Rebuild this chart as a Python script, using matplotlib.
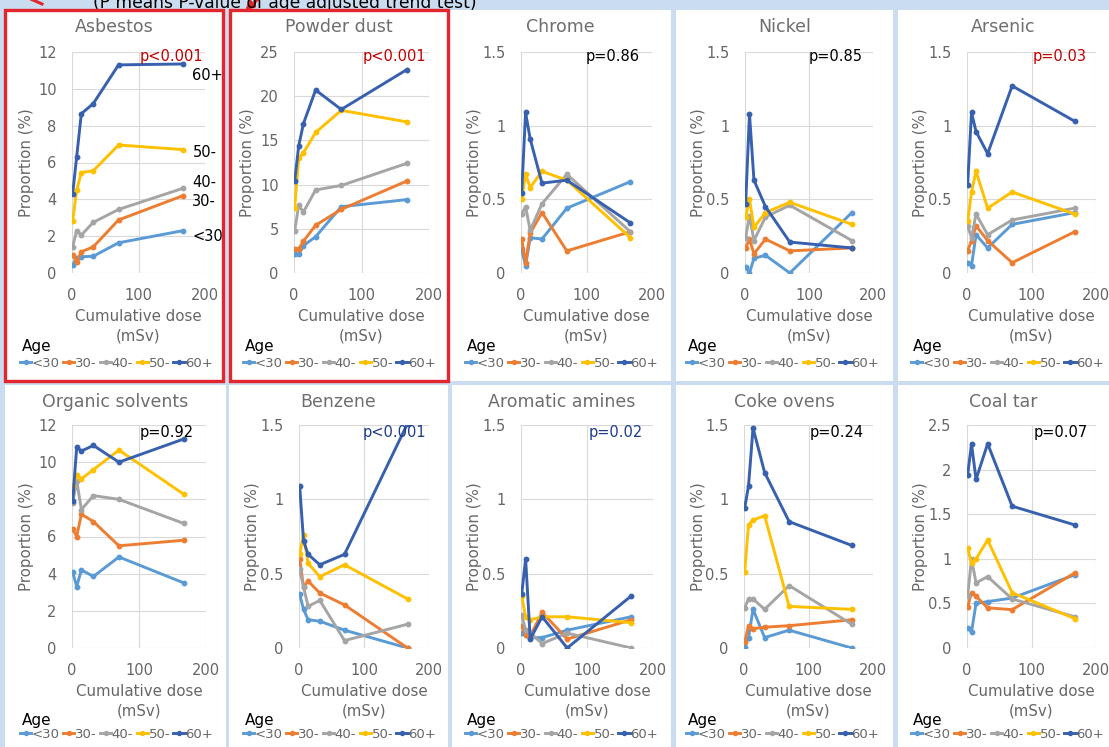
import matplotlib
matplotlib.use("Agg")
import matplotlib.pyplot as plt
from matplotlib.patches import Rectangle

plt.rcParams['font.family'] = ['DejaVu Sans']

# cumulative dose categories (mSv)
dose = [1, 7, 14, 32, 70, 167]
ages = ["<30", "30-", "40-", "50-", "60+"]
colors = ['#5B9BD5', '#ED7D31', '#A5A5A5', '#FFC000', '#3760AE']

titles = ["Asbestos", "Powder dust", "Chrome", "Nickel", "Arsenic",
          "Organic solvents", "Benzene", "Aromatic amines", "Coke ovens", "Coal tar"]
pvals = ["p<0.001", "p<0.001", "p=0.86", "p=0.85", "p=0.03",
         "p=0.92", "p<0.001", "p=0.02", "p=0.24", "p=0.07"]
pcolors = ['#C00000', '#C00000', 'black', 'black', '#C00000',
           'black', '#1F3C88', '#1F3C88', 'black', 'black']
ymax = [12, 25, 1.5, 1.5, 1.5, 12, 1.5, 1.5, 1.5, 2.5]
ystep = [2, 5, 0.5, 0.5, 0.5, 2, 0.5, 0.5, 0.5, 0.5]

# proportion (%) per age group: <30, 30-, 40-, 50-, 60+
asbestos = [[0.42, 0.84, 0.88, 0.91, 1.64, 2.3],
            [0.97, 0.6, 1.15, 1.42, 2.88, 4.2],
            [1.42, 2.3, 2.06, 2.75, 3.45, 4.6],
            [2.85, 4.5, 5.45, 5.55, 6.95, 6.7],
            [4.3, 6.3, 8.65, 9.2, 11.3, 11.35]]
powder = [[2.2, 2.1, 3.1, 4.1, 7.5, 8.3],
          [2.75, 2.75, 3.6, 5.4, 7.2, 10.4],
          [4.8, 7.65, 6.9, 9.4, 9.9, 12.4],
          [7.4, 13.0, 13.6, 15.9, 18.4, 17.1],
          [10.4, 14.4, 16.9, 20.7, 18.5, 23.0]]
chrome = [[0.16, 0.05, 0.24, 0.23, 0.44, 0.62],
          [0.23, 0.07, 0.27, 0.41, 0.15, 0.28],
          [0.40, 0.45, 0.29, 0.47, 0.67, 0.28],
          [0.50, 0.67, 0.58, 0.69, 0.63, 0.24],
          [0.54, 1.09, 0.91, 0.61, 0.63, 0.34]]
nickel = [[0.04, 0.0, 0.10, 0.12, 0.0, 0.41],
          [0.17, 0.23, 0.13, 0.23, 0.15, 0.17],
          [0.24, 0.39, 0.22, 0.38, 0.46, 0.22],
          [0.38, 0.50, 0.31, 0.41, 0.48, 0.33],
          [0.47, 1.08, 0.63, 0.45, 0.21, 0.17]]
arsenic = [[0.07, 0.05, 0.26, 0.17, 0.33, 0.41],
           [0.15, 0.22, 0.32, 0.22, 0.07, 0.28],
           [0.32, 0.24, 0.40, 0.26, 0.36, 0.44],
           [0.35, 0.55, 0.69, 0.44, 0.55, 0.40],
           [0.60, 1.09, 0.96, 0.81, 1.27, 1.03]]
organic = [[4.1, 3.3, 4.2, 3.85, 4.9, 3.5],
           [6.4, 6.0, 7.2, 6.8, 5.5, 5.8],
           [7.8, 9.0, 7.45, 8.2, 8.0, 6.7],
           [8.7, 9.3, 9.1, 9.6, 10.65, 8.27],
           [7.9, 10.8, 10.6, 10.9, 10.0, 11.25]]
benzene = [[0.36, 0.26, 0.19, 0.18, 0.12, 0.0],
           [0.60, 0.41, 0.45, 0.37, 0.29, 0.0],
           [0.53, 0.41, 0.28, 0.32, 0.05, 0.16],
           [0.63, 0.76, 0.57, 0.48, 0.56, 0.33],
           [1.09, 0.72, 0.63, 0.56, 0.63, 1.51]]
aromatic = [[0.10, 0.09, 0.07, 0.07, 0.12, 0.21],
            [0.15, 0.09, 0.08, 0.24, 0.06, 0.19],
            [0.22, 0.12, 0.10, 0.03, 0.10, 0.0],
            [0.35, 0.21, 0.19, 0.21, 0.21, 0.17],
            [0.36, 0.60, 0.06, 0.21, 0.0, 0.35]]
coke = [[0.01, 0.07, 0.26, 0.07, 0.12, 0.0],
        [0.04, 0.15, 0.13, 0.14, 0.15, 0.19],
        [0.27, 0.33, 0.33, 0.26, 0.42, 0.16],
        [0.51, 0.83, 0.86, 0.89, 0.28, 0.26],
        [0.94, 1.09, 1.48, 1.18, 0.85, 0.69]]
coaltar = [[0.22, 0.18, 0.50, 0.52, 0.56, 0.82],
           [0.46, 0.62, 0.58, 0.45, 0.43, 0.84],
           [0.58, 1.0, 0.73, 0.80, 0.55, 0.35],
           [1.12, 0.95, 1.0, 1.21, 0.62, 0.33],
           [1.94, 2.29, 1.89, 2.29, 1.59, 1.38]]
data = [asbestos, powder, chrome, nickel, arsenic,
        organic, benzene, aromatic, coke, coaltar]

W, H = 1109, 747
fig = plt.figure(figsize=(W / 100, H / 100), dpi=100)
fig.patch.set_facecolor('#CADCF0')

def fx(px):
    return px / W

def fy(py):
    # py measured from the top of the picture
    return 1 - py / H

# white panel backgrounds (pixel boxes: left, right, top, bottom)
panels = [(5, 223, 10, 381), (230, 448, 10, 381), (450, 671, 10, 381),
          (676, 893, 10, 381), (898, 1109, 10, 381),
          (5, 226, 385, 747), (229, 448, 385, 747), (452, 671, 385, 747),
          (676, 893, 385, 747), (898, 1109, 385, 747)]
for l, r, t, b in panels:
    fig.patches.append(Rectangle((fx(l), fy(b)), fx(r - l), (b - t) / H,
                                 transform=fig.transFigure, facecolor='white',
                                 edgecolor='none', zorder=-10))
for l, r, t, b in panels[:2]:
    fig.patches.append(Rectangle((fx(l), fy(b)), fx(r - l), (b - t) / H,
                                 transform=fig.transFigure, facecolor='none',
                                 edgecolor='#E3262E', linewidth=2.4, zorder=5))

# axes boxes in pixels
cols = [[(72, 205), (294, 429), (521, 652), (745, 873), (967, 1096)],
        [(72, 206), (299, 429), (521, 653), (744, 873), (967, 1096)]]
rows = [(52, 273), (425, 648)]
leg_x = [20, 243, 465, 686, 911]
p_off = [2, 3, 12, 10, 9, 12, 3, 10, 9, 8]
tick_c = '#666666'

for i in range(10):
    r, c = divmod(i, 5)
    l, rt = cols[r][c]
    t, b = rows[r]
    w = rt - l
    ax = fig.add_axes([fx(l), fy(b), fx(w), (b - t) / H])
    ax.set_facecolor('none')
    for k in range(5):
        ax.plot(dose, data[i][k], color=colors[k], lw=2.1, marker='o',
                markersize=3.2, label=ages[k], solid_joinstyle='round')
    ax.set_xlim(0, 200)
    ax.set_ylim(0, ymax[i])
    ax.set_xticks([0, 100, 200])
    yt = [j * ystep[i] for j in range(int(round(ymax[i] / ystep[i])) + 1)]
    ax.set_yticks(yt)
    ax.set_yticklabels(['%g' % v for v in yt])
    ax.grid(True, color='#D9D9D9', lw=0.8)
    ax.set_axisbelow(True)
    for s in ax.spines.values():
        s.set_visible(False)
    ax.tick_params(length=0, labelsize=10.5, colors=tick_c)
    ax.tick_params(axis='y', pad=11)
    ax.tick_params(axis='x', pad=11)
    ax.set_ylabel("Proportion (%)", fontsize=10.8, color=tick_c, va='center')
    ax.yaxis.set_label_coords(-46 / w, 0.5)
    ax.set_xlabel("Cumulative dose\n(mSv)", fontsize=10.8, color=tick_c,
                  labelpad=4, linespacing=1.4)
    ax.text(1 - p_off[i] / w, 1 - (4 if r == 0 else 7) / (b - t), pvals[i],
            transform=ax.transAxes, ha='right', va='center', fontsize=10.5,
            color=pcolors[i])
    pl, pr, pt, pb = panels[i]
    fig.text(fx((pl + pr) / 2), fy(pt + 17), titles[i],
             ha='center', va='center', fontsize=12.5, color='#6E6E6E')
    fig.text(fx(leg_x[c] + 2), fy(346 if r == 0 else 721), "Age",
             ha='left', va='center', fontsize=11, color='black')
    ax.legend(loc='center left', bbox_to_anchor=(fx(leg_x[c]), fy(363 if r == 0 else 734)),
              bbox_transform=fig.transFigure, ncol=5, frameon=False,
              fontsize=9.5, handlelength=0.85, handletextpad=0.05,
              columnspacing=0.25, borderpad=0, borderaxespad=0,
              labelcolor=tick_c, markerscale=0.9)
    if i == 0:
        lab_y = [2.0, 3.86, 4.94, 6.57, 10.7]
        for k in range(5):
            ax.text(181, lab_y[k], ages[k], fontsize=10.5, color='black',
                    ha='left', va='center', clip_on=False)

# header note, cut at the top of the picture
fig.text(fx(93), fy(8), "(P means P-value of age adjusted trend test)",
         ha='left', va='baseline', fontsize=12.3, color='black')
fig.add_artist(plt.Line2D([fx(24), fx(42)], [fy(-4), fy(4)], color='#E3262E',
                          lw=2.2, transform=fig.transFigure))
ax0 = fig.axes[0]
ax0.annotate("", xy=(243, H - 12), xycoords='figure pixels',
             xytext=(262, H + 4), textcoords='figure pixels',
             arrowprops=dict(arrowstyle='-|>', color='#E3262E', lw=2,
                             mutation_scale=12))

fig.savefig("out.png", dpi=100, facecolor=fig.get_facecolor())
